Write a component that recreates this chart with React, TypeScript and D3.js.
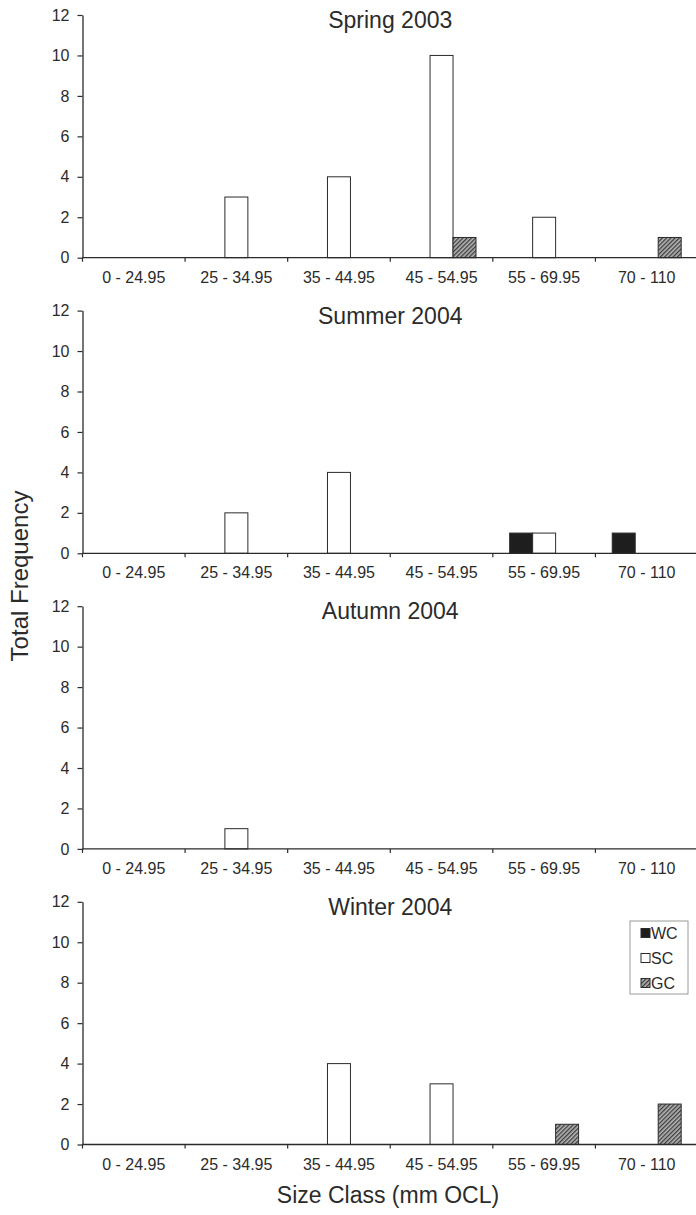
import { useEffect, useRef } from "react";
import * as d3 from "d3";

// size classes (mm OCL)
const sizeClasses = ["0 - 24.95", "25 - 34.95", "35 - 44.95", "45 - 54.95", "55 - 69.95", "70 - 110"];
const seriesNames = ["WC", "SC", "GC"];
const seasons = ["Spring 2003", "Summer 2004", "Autumn 2004", "Winter 2004"];

// frequency per size class, one row per season
const wcValues = [
  [0, 0, 0, 0, 0, 0],
  [0, 0, 0, 0, 1, 1],
  [0, 0, 0, 0, 0, 0],
  [0, 0, 0, 0, 0, 0],
];
const scValues = [
  [0, 3, 4, 10, 2, 0],
  [0, 2, 4, 0, 1, 0],
  [0, 1, 0, 0, 0, 0],
  [0, 0, 4, 3, 0, 0],
];
const gcValues = [
  [0, 0, 0, 1, 0, 1],
  [0, 0, 0, 0, 0, 0],
  [0, 0, 0, 0, 0, 0],
  [0, 0, 0, 0, 1, 2],
];
const yTicks = [0, 2, 4, 6, 8, 10, 12];

const App = () => {
  const svgRef = useRef(null);

  useEffect(() => {
    const svg = d3.select(svgRef.current);
    svg.selectAll("*").remove();

    const width = 696;
    const height = 1215;
    const left = 82.5;
    const right = 698;
    const panelH = 242.7;
    const panelStep = 295.6;
    const firstTop = 15;
    const ink = "#2b2b2b";
    const font = "'Liberation Sans', Arial, sans-serif";

    svg.attr("width", width).attr("height", height);

    // hatch pattern for GC
    const defs = svg.append("defs");
    const pat = defs
      .append("pattern")
      .attr("id", "hatch")
      .attr("patternUnits", "userSpaceOnUse")
      .attr("width", 3)
      .attr("height", 3)
      .attr("patternTransform", "rotate(45)");
    pat.append("rect").attr("width", 3).attr("height", 3).attr("fill", "#b5b5b5");
    pat.append("rect").attr("width", 1.3).attr("height", 3).attr("fill", "#3c3c3c");

    const colors = { WC: "#1e1e1e", SC: "#ffffff", GC: "url(#hatch)" };
    const allValues = [wcValues, scValues, gcValues];

    const x0 = d3.scaleBand().domain(sizeClasses).range([left, right]);
    const bw = x0.bandwidth();
    const x1 = d3.scaleBand().domain(seriesNames).range([bw * 0.164, bw * 0.836]);

    seasons.forEach((season, si) => {
      const top = firstTop + si * panelStep;
      const y = d3.scaleLinear().domain([0, 12]).range([top + panelH, top]);
      const g = svg.append("g");

      // bars
      seriesNames.forEach((name, k) => {
        const vals = allValues[k][si];
        g.selectAll(null)
          .data(vals.map((v, i) => ({ v, c: sizeClasses[i] })).filter((d) => d.v > 0))
          .enter()
          .append("rect")
          .attr("x", (d) => x0(d.c) + x1(name))
          .attr("y", (d) => y(d.v))
          .attr("width", x1.bandwidth())
          .attr("height", (d) => y(0) - y(d.v))
          .attr("fill", colors[name])
          .attr("stroke", ink)
          .attr("stroke-width", 1);
      });

      // y axis
      const yAxis = g
        .append("g")
        .attr("transform", `translate(${left},0)`)
        .call(d3.axisLeft(y).tickValues(yTicks).tickSize(5).tickSizeOuter(0).tickPadding(8));
      yAxis.select(".domain").attr("stroke", ink).attr("stroke-width", 1.3);
      yAxis.selectAll("line").attr("stroke", ink).attr("stroke-width", 1.2);
      yAxis.selectAll("text").attr("font-family", font).attr("font-size", 16).attr("fill", ink);

      // x axis: ticks at band edges
      g.append("line")
        .attr("x1", left)
        .attr("x2", right)
        .attr("y1", y(0))
        .attr("y2", y(0))
        .attr("stroke", ink)
        .attr("stroke-width", 1.3);
      g.selectAll(null)
        .data(sizeClasses)
        .enter()
        .append("line")
        .attr("x1", (d) => x0(d))
        .attr("x2", (d) => x0(d))
        .attr("y1", y(0))
        .attr("y2", y(0) + 4)
        .attr("stroke", ink)
        .attr("stroke-width", 1.2);
      g.selectAll(null)
        .data(sizeClasses)
        .enter()
        .append("text")
        .attr("x", (d) => x0(d) + bw / 2)
        .attr("y", y(0) + 25)
        .attr("text-anchor", "middle")
        .attr("font-family", font)
        .attr("font-size", 16)
        .attr("fill", ink)
        .text((d) => d);

      // panel title
      g.append("text")
        .attr("x", (left + right) / 2)
        .attr("y", top + 13)
        .attr("text-anchor", "middle")
        .attr("font-family", font)
        .attr("font-size", 23)
        .attr("fill", ink)
        .text(season);
    });

    // legend in the last panel
    const lg = svg.append("g").attr("transform", "translate(630,921)");
    lg.append("rect")
      .attr("width", 58)
      .attr("height", 73)
      .attr("fill", "#fff")
      .attr("stroke", "#9a9a9a")
      .attr("stroke-width", 1);
    seriesNames.forEach((name, i) => {
      const row = lg.append("g").attr("transform", `translate(11,${12 + i * 25})`);
      row.append("rect")
        .attr("x", 0)
        .attr("y", -4.5)
        .attr("width", 9)
        .attr("height", 9)
        .attr("fill", colors[name])
        .attr("stroke", ink)
        .attr("stroke-width", 1);
      row.append("text")
        .attr("x", 10)
        .attr("y", 6)
        .attr("font-family", font)
        .attr("font-size", 16)
        .attr("fill", ink)
        .text(name);
    });

    // axis titles
    svg.append("text")
      .attr("transform", "translate(28,576) rotate(-90)")
      .attr("text-anchor", "middle")
      .attr("font-family", font)
      .attr("font-size", 24)
      .attr("fill", ink)
      .text("Total Frequency");
    svg.append("text")
      .attr("x", 388)
      .attr("y", 1203)
      .attr("text-anchor", "middle")
      .attr("font-family", font)
      .attr("font-size", 23)
      .attr("fill", ink)
      .text("Size Class (mm OCL)");
  }, []);

  return <svg ref={svgRef} style={{ position: "absolute", left: 0, top: 0 }}></svg>;
};

export default App;
